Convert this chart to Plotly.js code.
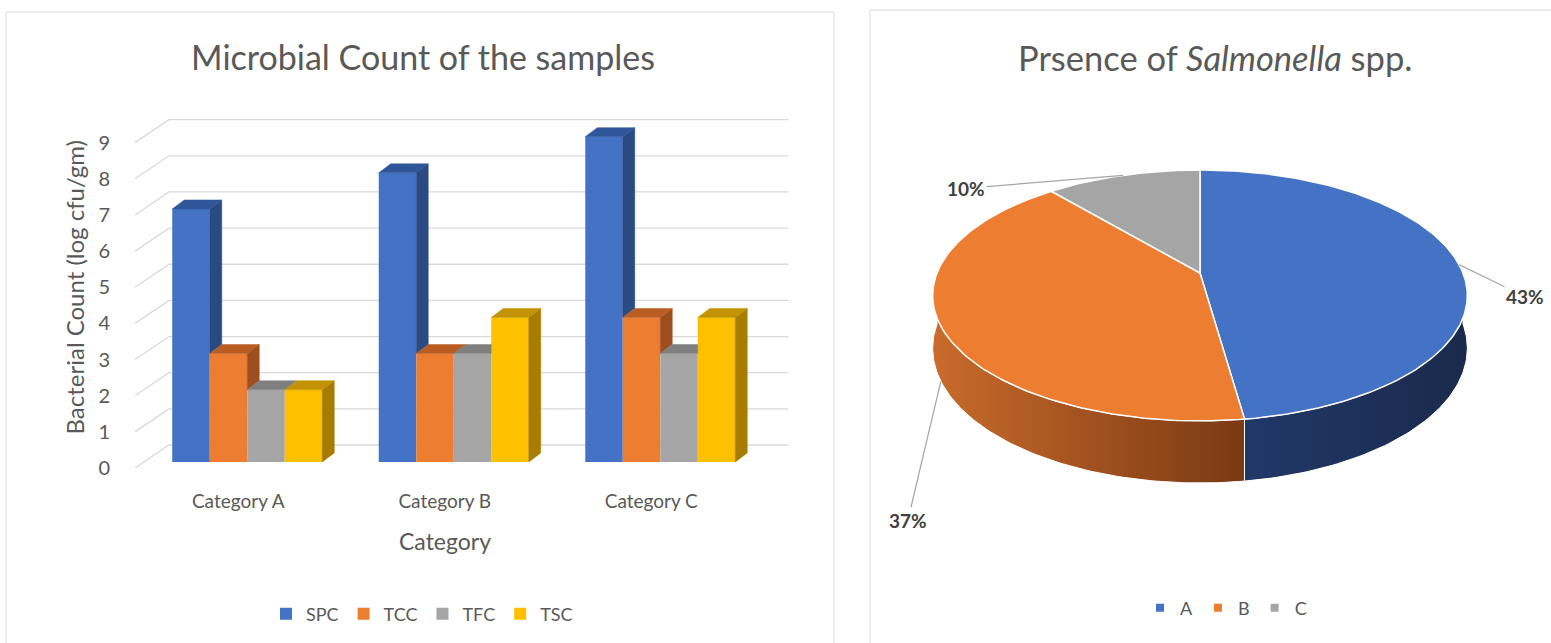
<!DOCTYPE html>
<html>
<head>
<meta charset="utf-8">
<script src="https://cdn.plot.ly/plotly-3.0.1.min.js"></script>
<style>
html,body{margin:0;padding:0;background:#ffffff;}
#chart{width:1551px;height:643px;}
</style>
</head>
<body>
<div id="chart"></div>
<script>
// ---------------- DATA ----------------
const categories = ['Category A', 'Category B', 'Category C'];
const seriesNames = ['SPC', 'TCC', 'TFC', 'TSC'];
const spc = [7, 8, 9];
const tcc = [3, 3, 4];
const tfc = [2, 3, 3];
const tsc = [2, 4, 4];
const yTicks = [0, 1, 2, 3, 4, 5, 6, 7, 8, 9];

const pieLabels = ['A', 'B', 'C'];
const pieValues = [43, 37, 10];

// ---------------- STYLE / GEOMETRY ----------------
const FONT = 'Lato, "Open Sans", sans-serif';
const TXT = '#595959';
const frontColors = ['#4472C4', '#ED7D31', '#A5A5A5', '#FFC000'];
const sideColors  = ['#2B4A82', '#9E4D1C', '#7C7C7C', '#A67D00'];
const topColors   = ['#30569A', '#B95D22', '#7F7F7F', '#C29200'];

const W = 1551, H = 643;
// bar chart pixel frame
const X0PX = 135, UX = 206.5;       // px of x=-0.5, px per category
const Y0PX = 468, UY = 36.15;       // px of y=0, px per unit
const XR = [-0.5, 2.75], YR = [0, 10];
const floorDX = 34 / UX, floorDY = 23 / UY;   // 3D depth of the walls
const barDX = 12 / UX, barDY = 9 / UY;        // 3D depth of each bar
const barShift = 9 / UX, barBase = 6 / UY;    // front face offset
const barW = 37.5 / UX;

const seriesVals = [spc, tcc, tfc, tsc];
const traces = [];

// front faces: real bar traces
seriesNames.forEach((nm, k) => {
  traces.push({
    type: 'bar', name: nm,
    x: categories.map((c, i) => i), y: seriesVals[k],
    base: barBase, width: barW,
    offset: barShift - 2 * barW + k * barW,
    marker: {color: frontColors[k], line: {width: 0}},
    xaxis: 'x', yaxis: 'y', legend: 'legend', hoverinfo: 'skip'
  });
});

// side and top faces derived from the same values
seriesNames.forEach((nm, k) => {
  const sx = [], sy = [], tx = [], ty = [];
  categories.forEach((c, i) => {
    const xl = i + barShift - 2 * barW + k * barW, xr = xl + barW;
    const b = barBase, t = barBase + seriesVals[k][i];
    const hasNext = k < seriesVals.length - 1;
    const nt = hasNext ? barBase + seriesVals[k + 1][i] : null;
    // side face
    if (!hasNext) {
      sx.push(xr, xr + barDX, xr + barDX, xr, xr, null);
      sy.push(b, b + barDY, t + barDY, t, b, null);
    } else if (t > nt) {
      sx.push(xr, xr + barDX, xr + barDX, xr, xr, null);
      sy.push(nt, nt + barDY, t + barDY, t, nt, null);
    }
    // top face
    if (hasNext && nt > t + barDY * 0.5) {
      tx.push(xl, xl + barDX, xr, xr, xl, null);
      ty.push(t, t + barDY, t + barDY, t, t, null);
    } else {
      tx.push(xl, xl + barDX, xr + barDX, xr, xl, null);
      ty.push(t, t + barDY, t + barDY, t, t, null);
    }
  });
  if (sx.length) traces.push({type: 'scatter', mode: 'lines', x: sx, y: sy, fill: 'toself',
    fillcolor: sideColors[k], line: {color: sideColors[k], width: 0.5},
    xaxis: 'x', yaxis: 'y', showlegend: false, hoverinfo: 'skip'});
  traces.push({type: 'scatter', mode: 'lines', x: tx, y: ty, fill: 'toself',
    fillcolor: topColors[k], line: {color: topColors[k], width: 0.5},
    xaxis: 'x', yaxis: 'y', showlegend: false, hoverinfo: 'skip'});
});

// 3D gridlines (back wall + side wall), computed from tick values
const shapes = [];
yTicks.forEach(v => {
  shapes.push({type: 'path', xref: 'x', yref: 'y', layer: 'below',
    path: 'M ' + XR[0] + ',' + v + ' L ' + (XR[0] + floorDX) + ',' + (v + floorDY) +
          ' L ' + (2.5 + floorDX) + ',' + (v + floorDY),
    line: {color: '#D9D9D9', width: 1.3}});
});
// panel frames
shapes.push({type: 'rect', xref: 'paper', yref: 'paper', x0: 6 / W, x1: 834 / W,
  y0: -0.05, y1: (H - 12) / H, line: {color: '#D9D9D9', width: 1}, layer: 'below'});
shapes.push({type: 'rect', xref: 'paper', yref: 'paper', x0: 870 / W, x1: 1.02,
  y0: -0.05, y1: (H - 10) / H, line: {color: '#D9D9D9', width: 1}, layer: 'below'});

// ---------------- 3D PIE (perspective ellipse) ----------------
const PIE = {cx: 1200, cy: 273, kx: 263, ky: 121.4, p: 0.179, depth: 51};
const pieTop = ['#4472C4', '#ED7D31', '#A5A5A5'];
const pieSide = [[[0, '#213867'], [1, '#1A2A4C']], [[0, '#C96B2C'], [1, '#7A3913']], [[0, '#808080'], [1, '#5A5A5A']]];
function rim(deg, drop) {
  const th = deg * Math.PI / 180;
  const w = 1 / (1 + PIE.p * Math.cos(th));
  return [PIE.cx + PIE.kx * Math.sin(th) * w,
          PIE.cy - PIE.ky * Math.cos(th) * w + (drop ? PIE.depth * w : 0)];
}
function arc(a0, a1, drop) {
  const pts = [];
  const n = Math.max(2, Math.ceil(Math.abs(a1 - a0)));
  for (let j = 0; j <= n; j++) pts.push(rim(a0 + (a1 - a0) * j / n, drop));
  return pts;
}
const total = pieValues.reduce((a, b) => a + b, 0);
const angles = [];
let cum = 0;
pieValues.forEach(v => { angles.push([cum / total * 360, (cum + v) / total * 360]); cum += v; });

// side walls first
angles.forEach(([a0, a1], k) => {
  const s0 = Math.max(a0, 90), s1 = Math.min(a1, 270);
  if (s1 <= s0) return;
  const pts = arc(s0, s1, false).concat(arc(s1, s0, true));
  pts.push(pts[0]);
  traces.push({type: 'scatter', mode: 'lines', x: pts.map(p => p[0]), y: pts.map(p => p[1]),
    fill: 'toself', fillgradient: {type: 'horizontal', colorscale: pieSide[k]},
    fillcolor: pieSide[k][0][1],
    line: {color: '#FFFFFF', width: 1}, xaxis: 'x2', yaxis: 'y2',
    showlegend: false, hoverinfo: 'skip', legend: 'legend2'});
});
// top faces
angles.forEach(([a0, a1], k) => {
  const pts = [[PIE.cx, PIE.cy]].concat(arc(a0, a1, false));
  pts.push([PIE.cx, PIE.cy]);
  traces.push({type: 'scatter', mode: 'lines', x: pts.map(p => p[0]), y: pts.map(p => p[1]),
    fill: 'toself', fillcolor: pieTop[k], line: {color: '#FFFFFF', width: 1.5},
    xaxis: 'x2', yaxis: 'y2', showlegend: false, hoverinfo: 'skip', legend: 'legend2'});
});
// legend entries for the pie
pieLabels.forEach((lab, k) => {
  traces.push({type: 'scatter', mode: 'markers', name: lab, x: [null], y: [null],
    marker: {symbol: 'square', size: 8, color: pieTop[k]},
    xaxis: 'x2', yaxis: 'y2', legend: 'legend2', hoverinfo: 'skip'});
});

// percentage labels with leader lines
const labelOffsets = [[66, 32], [-33, 139], [-157, 13]];   // pixel offsets of the text
const annotations = [];
angles.forEach(([a0, a1], k) => {
  const mid = (a0 + a1) / 2;
  const onFront = mid > 90 && mid < 270;
  const pt = rim(mid, onFront);
  annotations.push({xref: 'x2', yref: 'y2', x: pt[0], y: pt[1],
    text: '<b>' + pieValues[k] + '%</b>', showarrow: true, arrowhead: 0, arrowwidth: 1.2,
    arrowcolor: '#A6A6A6', ax: labelOffsets[k][0], ay: labelOffsets[k][1], standoff: 0,
    font: {family: FONT, size: 19, color: '#404040'}});
});
// right title and x-axis title of the bar chart
annotations.push({xref: 'paper', yref: 'paper', x: 1215 / W, y: (H - 58) / H,
  xanchor: 'center', yanchor: 'middle', showarrow: false,
  text: 'Prsence of <i>Salmonella</i> spp.', font: {family: FONT, size: 34.5, color: TXT}});
annotations.push({xref: 'x', yref: 'paper', x: 1, y: (H - 541) / H,
  xanchor: 'center', yanchor: 'middle', showarrow: false,
  text: 'Category', font: {family: FONT, size: 23, color: TXT}});

const layout = {
  width: W, height: H,
  margin: {l: 0, r: 0, t: 0, b: 0},
  paper_bgcolor: '#FFFFFF', plot_bgcolor: 'rgba(0,0,0,0)',
  font: {family: FONT, color: TXT},
  barmode: 'overlay',
  hovermode: false,
  title: {text: 'Microbial Count of the samples', x: 423 / W, xref: 'paper', xanchor: 'center',
    y: (H - 58) / H, yref: 'paper', yanchor: 'middle', font: {family: FONT, size: 34, color: TXT}},
  xaxis: {domain: [X0PX / W, (X0PX + (XR[1] - XR[0]) * UX) / W], range: XR, anchor: 'y',
    tickvals: categories.map((c, i) => i), ticktext: categories,
    showgrid: false, zeroline: false, showline: false,
    ticks: 'outside', ticklen: 16, tickcolor: 'rgba(0,0,0,0)',
    tickfont: {family: FONT, size: 19, color: TXT}, fixedrange: true, automargin: false},
  yaxis: {domain: [(H - Y0PX) / H, (H - (Y0PX - (YR[1] - YR[0]) * UY)) / H], range: YR, anchor: 'x',
    tickvals: yTicks, showgrid: false, zeroline: false, showline: false,
    ticks: 'outside', ticklen: 20, tickcolor: 'rgba(0,0,0,0)',
    tickfont: {family: FONT, size: 20, color: TXT},
    title: {text: 'Bacterial Count (log cfu/gm)', font: {family: FONT, size: 24, color: TXT}, standoff: 6},
    fixedrange: true, automargin: false},
  xaxis2: {domain: [880 / W, 1545 / W], range: [880, 1545], anchor: 'y2', visible: false, fixedrange: true},
  yaxis2: {domain: [(H - 600) / H, (H - 100) / H], range: [600, 100], anchor: 'x2', visible: false, fixedrange: true},
  legend: {orientation: 'h', x: 422 / W, xanchor: 'center', y: (H - 614) / H, yanchor: 'middle',
    font: {family: FONT, size: 18, color: TXT}, bgcolor: 'rgba(0,0,0,0)'},
  legend2: {orientation: 'h', x: 1226 / W, xanchor: 'center', y: (H - 608) / H, yanchor: 'middle',
    font: {family: FONT, size: 18, color: TXT}, bgcolor: 'rgba(0,0,0,0)', itemwidth: 30},
  shapes: shapes,
  annotations: annotations
};

Plotly.newPlot('chart', traces, layout, {displayModeBar: false, responsive: false});
</script>
</body>
</html>
